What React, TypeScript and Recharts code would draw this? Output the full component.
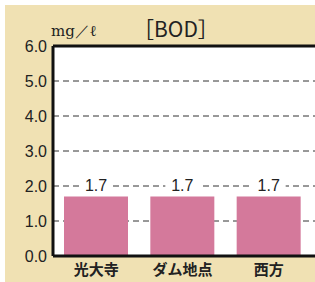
import React from "react";
import { BarChart, Bar, XAxis, YAxis, CartesianGrid, LabelList, ReferenceLine } from "recharts";

const categories = ["光大寺", "ダム地点", "西方"];
const bodValues = [1.7, 1.7, 1.7];
const yTicks = [0, 1, 2, 3, 4, 5, 6];
const titleText = "［BOD］";
const unitText = "mg／ℓ";

const data = categories.map((name, i) => ({ name, value: bodValues[i] }));

const ValueLabel = (props: any) => {
  const { x, y, width, value } = props;
  const cx = x + width / 2;
  const cy = y - 12;
  return (
    <g>
      <rect x={cx - 17} y={cy - 9} width={34} height={18} fill="#ffffff" />
      <text x={cx} y={cy + 6} textAnchor="middle" fontSize={16} fill="#222" fontFamily="Liberation Sans, Arial, sans-serif">
        {value.toFixed(1)}
      </text>
    </g>
  );
};

export default function App() {
  return (
    <div style={{ position: "fixed", left: 0, top: 0, width: 315, height: 282, background: "#ffffff", overflow: "hidden" }}>
      <div style={{ position: "absolute", left: 5, top: 5, width: 310, height: 277, background: "#f0e1b3" }} />
      <div style={{ position: "absolute", left: 0, top: 0 }}>
        <BarChart width={315} height={282} data={data} margin={{ top: 46, right: 0, left: 0, bottom: 0 }}>
          <CartesianGrid horizontal vertical={false} fill="#ffffff" stroke="#333" strokeDasharray="6 4" />
          <XAxis
            dataKey="name"
            height={26}
            padding={{ left: 0, right: 3 }}
            axisLine={{ stroke: "#111", strokeWidth: 3 }}
            tickLine={false}
            tickSize={0}
            tickMargin={8}
            interval={0}
            tick={{ fontSize: 15, fill: "#222", fontFamily: "Noto Sans CJK JP", fontWeight: 700 }}
          />
          <YAxis
            width={53}
            domain={[0, 6]}
            ticks={yTicks}
            interval={0}
            tickFormatter={(v: number) => v.toFixed(1)}
            axisLine={{ stroke: "#111", strokeWidth: 3 }}
            tickLine={false}
            tickSize={0}
            tickMargin={6}
            tick={{ fontSize: 16, fill: "#222", fontFamily: "Liberation Sans, Arial, sans-serif" }}
          />
          <ReferenceLine y={6} stroke="#111" strokeWidth={3} />
          <Bar dataKey="value" fill="#d4799b" barSize={64} isAnimationActive={false}>
            <LabelList dataKey="value" content={<ValueLabel />} />
          </Bar>
        </BarChart>
      </div>
      <div style={{ position: "absolute", left: 51, top: 22, fontSize: 15, fontFamily: "DejaVu Serif, serif", color: "#222", whiteSpace: "nowrap" }}>
        {unitText}
      </div>
      <div style={{ position: "absolute", left: 133, top: 13, fontSize: 21, fontFamily: "Noto Sans CJK JP", color: "#222", whiteSpace: "nowrap" }}>
        {titleText}
      </div>
    </div>
  );
}
